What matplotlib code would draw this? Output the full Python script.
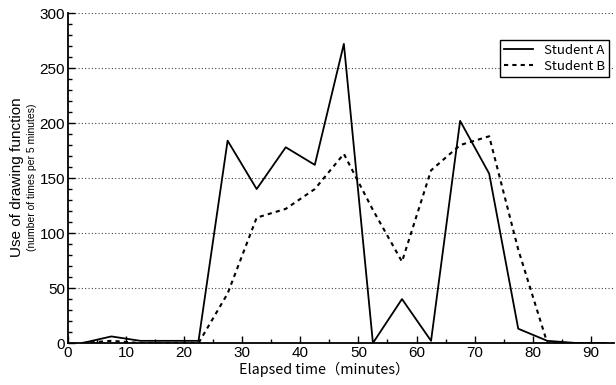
import matplotlib
matplotlib.use('Agg')
import matplotlib.pyplot as plt
from matplotlib.ticker import MultipleLocator

minutes = [2.5, 7.5, 12.5, 17.5, 22.5, 27.5, 32.5, 37.5, 42.5, 47.5,
           52.5, 57.5, 62.5, 67.5, 72.5, 77.5, 82.5, 87.5, 92.5]
student_a = [0, 6, 2, 2, 2, 184, 140, 178, 162, 272,
             0, 40, 2, 202, 154, 13, 2, 0, 0]
student_b = [0, 2, 0, 0, 0, 45, 114, 122, 140, 172,
             121, 74, 157, 180, 188, 85, 0, 0, 0]

plt.rcParams['font.family'] = ['Liberation Sans', 'DejaVu Sans']
jp = ['Noto Sans CJK JP', 'DejaVu Sans']

fig = plt.figure(figsize=(6.16, 3.85), dpi=100)
ax = fig.add_axes([0.110, 0.109, 0.887, 0.857])

ax.plot(minutes, student_a, color='black', lw=1.3, label='Student A')
ax.plot(minutes, student_b, color='black', lw=1.5, ls=(0, (2, 2)), label='Student B')

ax.set_xlim(0, 94)
ax.set_ylim(0, 300)
ax.xaxis.set_major_locator(MultipleLocator(10))
ax.xaxis.set_minor_locator(MultipleLocator(5))
ax.yaxis.set_major_locator(MultipleLocator(50))
ax.yaxis.set_minor_locator(MultipleLocator(10))
ax.tick_params(which='both', direction='in', labelsize=11, width=1, color='black')
ax.tick_params(which='major', length=5, pad=2)
ax.tick_params(which='minor', length=3)

ax.spines['top'].set_visible(False)
ax.spines['right'].set_visible(False)
ax.spines['left'].set_linewidth(1.3)
ax.spines['bottom'].set_linewidth(1.3)

ax.grid(axis='y', which='major', color='#444444', lw=0.8, ls=(0, (1, 2)))
ax.set_axisbelow(True)

ax.set_xlabel('Elapsed time（minutes）', family=jp, fontsize=10.3)
ax.xaxis.set_label_coords(0.469, -0.058)
fig.text(0.028, 0.54, 'Use of drawing function', rotation=90, fontsize=11,
         ha='center', va='center')
fig.text(0.052, 0.54, '(number of times per 5 minutes)', rotation=90, fontsize=7.5,
         ha='center', va='center')

leg = ax.legend(loc='upper right', bbox_to_anchor=(0.99, 0.918), borderaxespad=0,
                prop={'family': jp, 'size': 9.5},
                frameon=True, fancybox=False, edgecolor='black', framealpha=1,
                handlelength=2.2, borderpad=0.3, labelspacing=0.2, handletextpad=0.8)
leg.get_frame().set_linewidth(1.0)

fig.savefig('out.png', dpi=100)
